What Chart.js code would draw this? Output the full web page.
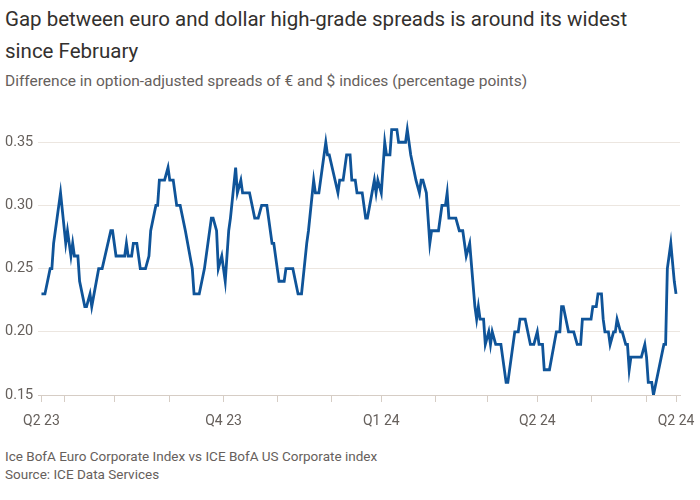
<!DOCTYPE html>
<html>
<head>
<meta charset="utf-8">
<script src="https://cdn.jsdelivr.net/npm/chart.js@4.4.1/dist/chart.umd.min.js"></script>
<style>
  body { margin: 0; background: #fff; width: 700px; height: 500px; overflow: hidden;
         font-family: 'Roboto', sans-serif; color: #33302e; position: relative; }
  .title    { position: absolute; left: 5px; top: 3px; width: 695px; font-size: 20.5px; line-height: 32px; }
  .subtitle { position: absolute; left: 5px; top: 72px; font-size: 15.5px; color: #66605c; white-space: nowrap; }
  .chart    { position: absolute; left: 0; top: 100px; width: 700px; height: 340px; }
  .footer   { position: absolute; left: 5px; top: 447px; font-size: 13.5px; line-height: 18px; color: #66605c; }
</style>
</head>
<body>
<div class="title">Gap between euro and dollar high-grade spreads is around its widest<br>since February</div>
<div class="subtitle">Difference in option-adjusted spreads of € and $ indices (percentage points)</div>
<div class="chart"><canvas id="chart-spread-gap"></canvas></div>
<div class="footer">Ice BofA Euro Corporate Index vs ICE BofA US Corporate index<br>Source: ICE Data Services</div>

<script>
// ------------------------------------------------------------
// Data — days since 19 Mar 2023, € minus $ OAS (pct points)
// ------------------------------------------------------------
const days = [
  0, 2, 5, 6, 7, 9, 11, 14, 15, 17,
  18, 19, 21, 22, 25, 26, 28, 29, 33, 35,
  40, 41, 43, 48, 49, 50, 52, 53, 55, 57,
  60, 62, 63, 66, 67, 68, 71, 73, 74, 76,
  78, 80, 83, 87, 88, 91, 94, 96, 98, 99,
  101, 102, 104, 106, 108, 109, 112, 113, 115, 116,
  120, 123, 125, 127, 130, 131, 133, 134, 136, 137,
  140, 141, 145, 148, 150, 153, 154, 157, 158, 160,
  162, 164, 165, 166, 171, 172, 174, 176, 178, 179,
  181, 182, 185, 187, 188, 192, 193, 194, 196, 198,
  199, 201, 202, 205, 206, 210, 211, 213, 216, 218,
  219, 220, 222, 224, 225, 229, 231, 233, 234, 235,
  239, 241, 243, 245, 247, 250, 251, 252, 253, 255,
  256, 258, 259, 260, 262, 265, 266, 268, 269, 271,
  273, 275, 276, 279, 282, 284, 286, 287, 289, 290,
  293, 297, 299, 300, 301, 304, 307, 309, 311, 312,
  317, 318, 320, 321, 323, 324, 325, 327, 328, 330,
  331, 332, 334, 335, 337, 338, 339, 340, 346, 348,
  349, 350, 352, 353, 359, 360, 361, 363, 365, 366,
];

const spread = [
  0.23, 0.23, 0.25, 0.25, 0.27, 0.29, 0.31, 0.27, 0.28, 0.26,
  0.27, 0.26, 0.26, 0.24, 0.22, 0.22, 0.23, 0.22, 0.25, 0.25,
  0.28, 0.28, 0.26, 0.26, 0.27, 0.26, 0.26, 0.27, 0.27, 0.25,
  0.25, 0.26, 0.28, 0.30, 0.30, 0.32, 0.32, 0.33, 0.32, 0.32,
  0.30, 0.30, 0.28, 0.25, 0.23, 0.23, 0.25, 0.27, 0.29, 0.29,
  0.28, 0.25, 0.26, 0.24, 0.28, 0.29, 0.33, 0.31, 0.32, 0.31,
  0.31, 0.29, 0.29, 0.30, 0.30, 0.29, 0.27, 0.27, 0.25, 0.24,
  0.24, 0.25, 0.25, 0.23, 0.23, 0.27, 0.28, 0.32, 0.31, 0.31,
  0.33, 0.35, 0.34, 0.34, 0.31, 0.32, 0.32, 0.34, 0.34, 0.32,
  0.32, 0.31, 0.31, 0.29, 0.29, 0.32, 0.31, 0.32, 0.31, 0.35,
  0.34, 0.34, 0.36, 0.36, 0.35, 0.35, 0.36, 0.34, 0.32, 0.31,
  0.32, 0.32, 0.31, 0.27, 0.28, 0.28, 0.30, 0.30, 0.31, 0.29,
  0.29, 0.28, 0.28, 0.26, 0.27, 0.22, 0.21, 0.22, 0.21, 0.21,
  0.19, 0.20, 0.19, 0.20, 0.19, 0.19, 0.18, 0.16, 0.16, 0.18,
  0.20, 0.20, 0.21, 0.21, 0.19, 0.19, 0.20, 0.19, 0.19, 0.17,
  0.17, 0.20, 0.20, 0.22, 0.22, 0.20, 0.20, 0.19, 0.19, 0.21,
  0.21, 0.22, 0.22, 0.23, 0.23, 0.21, 0.20, 0.20, 0.19, 0.20,
  0.20, 0.21, 0.20, 0.20, 0.19, 0.19, 0.17, 0.18, 0.18, 0.19,
  0.18, 0.16, 0.16, 0.15, 0.19, 0.19, 0.25, 0.27, 0.24, 0.23,
];

// month ticks (days since start) and their labels
const tickDays   = [0, 13, 42, 74, 105, 136, 167, 196, 227, 257, 286, 317, 349, 366];
const tickLabels = ['Q2 23', '', '', '', 'Q4 23', '', '', 'Q1 24', '', '', 'Q2 24', '', '', 'Q2 24'];
const yTicks     = [0.15, 0.20, 0.25, 0.30, 0.35];

// ------------------------------------------------------------
// Chart
// ------------------------------------------------------------
Chart.defaults.font.family = "'Roboto', sans-serif";
Chart.defaults.animation = false;

const MUTED = '#66605c';

new Chart(document.getElementById('chart-spread-gap'), {
  type: 'line',
  data: {
    datasets: [{
      data: days.map((d, i) => ({ x: d, y: spread[i] })),
      borderColor: '#0f5499',
      borderWidth: 2.8,
      pointRadius: 0,
      tension: 0,
      fill: false,
    }],
  },
  options: {
    responsive: true,
    maintainAspectRatio: false,
    layout: { padding: { left: 5, right: 20, top: 17, bottom: 0 } },
    plugins: { legend: { display: false }, tooltip: { enabled: false } },
    scales: {
      x: {
        type: 'linear',
        min: -2,
        max: 368.3,
        afterBuildTicks: s => { s.ticks = tickDays.map(v => ({ value: v })); },
        afterFit: s => { s.height = 45; s.paddingLeft = 0; s.paddingRight = 0; },
        grid: { drawOnChartArea: false, drawTicks: true, tickLength: 7, color: '#d6cdc5' },
        border: { display: true, color: '#d6cdc5', width: 1 },
        ticks: {
          autoSkip: false,
          maxRotation: 0,
          padding: 11,
          color: MUTED,
          font: { size: 14 },
          callback: (v, i) => tickLabels[i],
        },
      },
      y: {
        min: 0.15,
        max: 0.37,
        afterBuildTicks: s => { s.ticks = yTicks.map(v => ({ value: v })); },
        afterFit: s => { s.width = 33; s.paddingTop = 0; s.paddingBottom = 0; },
        grid: { color: '#ece6e0', drawTicks: false, tickLength: 0 },
        border: { display: false },
        ticks: {
          crossAlign: 'far',
          padding: 0,
          color: MUTED,
          font: { size: 14.5 },
          callback: v => v.toFixed(2),
        },
      },
    },
  },
});
</script>
</body>
</html>
